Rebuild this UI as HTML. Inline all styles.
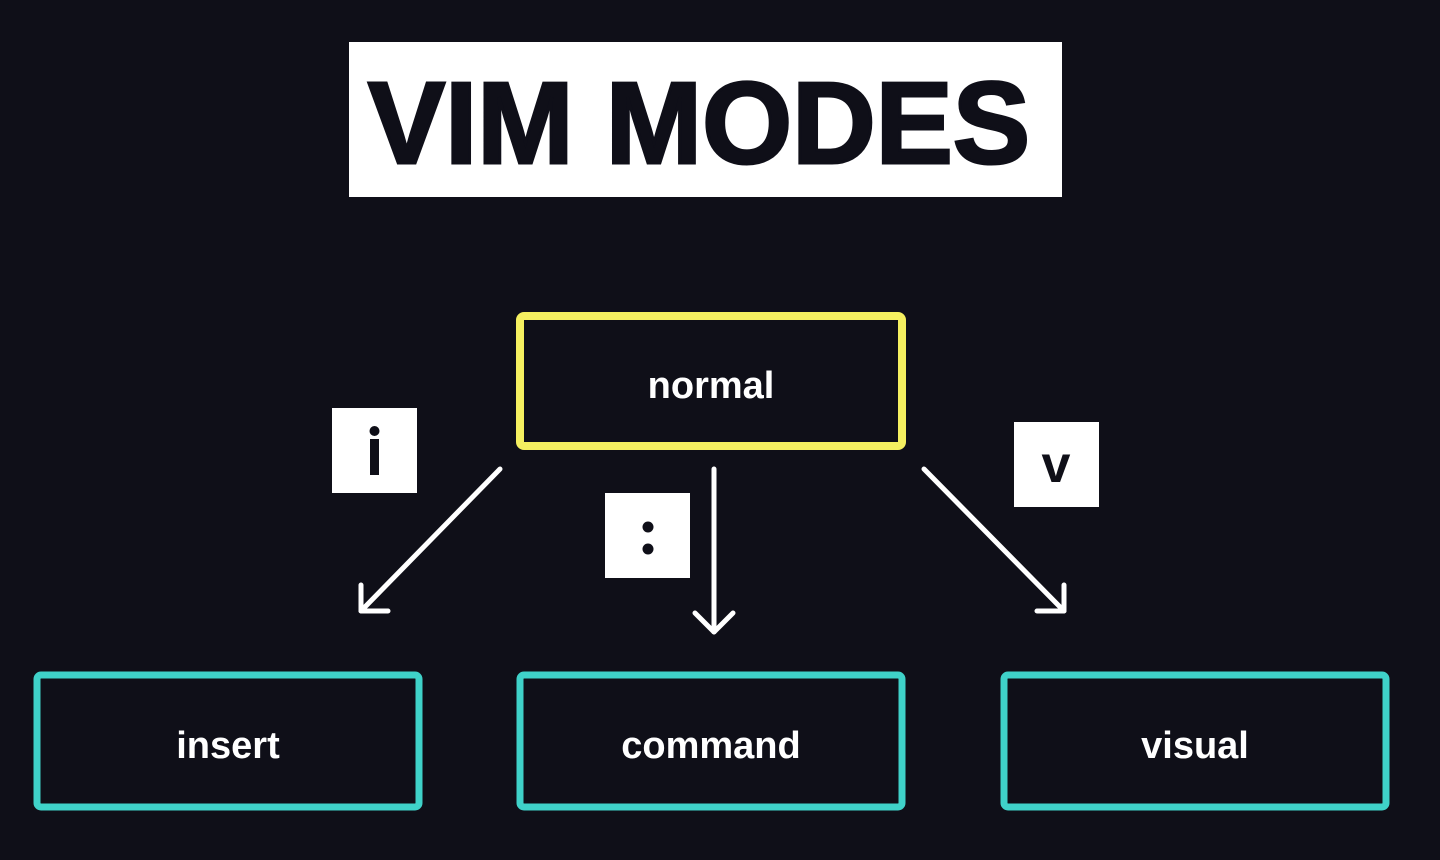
<!DOCTYPE html>
<html><head><style>
html,body{margin:0;padding:0;background:#0f0f18;width:1440px;height:860px;overflow:hidden}
</style></head><body>
<svg width="1440" height="860" viewBox="0 0 1440 860" xmlns="http://www.w3.org/2000/svg">
<rect width="1440" height="860" fill="#0f0f18"/>
<rect x="349" y="42" width="713" height="155" fill="#ffffff"/>
<text x="368" y="163" font-family="Liberation Sans, sans-serif" font-weight="bold" font-size="116" fill="#0f0f18" textLength="662" lengthAdjust="spacingAndGlyphs" stroke="#0f0f18" stroke-width="3">VIM MODES</text>
<rect x="520" y="316" width="382" height="130" rx="4" fill="none" stroke="#f5f060" stroke-width="8"/>
<rect x="37" y="675" width="382" height="132" rx="4" fill="none" stroke="#3fd2c9" stroke-width="7"/>
<rect x="520" y="675" width="382" height="132" rx="4" fill="none" stroke="#3fd2c9" stroke-width="7"/>
<rect x="1004" y="675" width="382" height="132" rx="4" fill="none" stroke="#3fd2c9" stroke-width="7"/>
<g font-family="Liberation Sans, sans-serif" font-weight="bold" font-size="38" fill="#ffffff" text-anchor="middle">
<text x="711" y="398">normal</text>
<text x="228" y="758">insert</text>
<text x="711" y="758">command</text>
<text x="1195" y="758">visual</text>
</g>
<g stroke="#ffffff" stroke-width="5" fill="none" stroke-linecap="round" stroke-linejoin="round">
<line x1="500" y1="469" x2="361" y2="611"/>
<polyline points="361,585 361,611 388,611"/>
<line x1="714" y1="469" x2="714" y2="632"/>
<polyline points="695,613 714,632 733,613"/>
<line x1="924" y1="469" x2="1064" y2="611"/>
<polyline points="1064,585 1064,611 1037,611"/>
</g>
<rect x="332" y="408" width="85" height="85" fill="#fff"/>
<rect x="605" y="493" width="85" height="85" fill="#fff"/>
<rect x="1014" y="422" width="85" height="85" fill="#fff"/>
<rect x="370" y="439" width="9" height="36" fill="#0f0f18"/>
<circle cx="374.5" cy="431" r="5" fill="#0f0f18"/>
<circle cx="648" cy="527" r="5.5" fill="#0f0f18"/>
<circle cx="648" cy="549" r="5.5" fill="#0f0f18"/>
<text x="1056" y="482" font-family="Liberation Sans, sans-serif" font-weight="bold" font-size="52" fill="#0f0f18" text-anchor="middle">v</text>
</svg>
</body></html>
